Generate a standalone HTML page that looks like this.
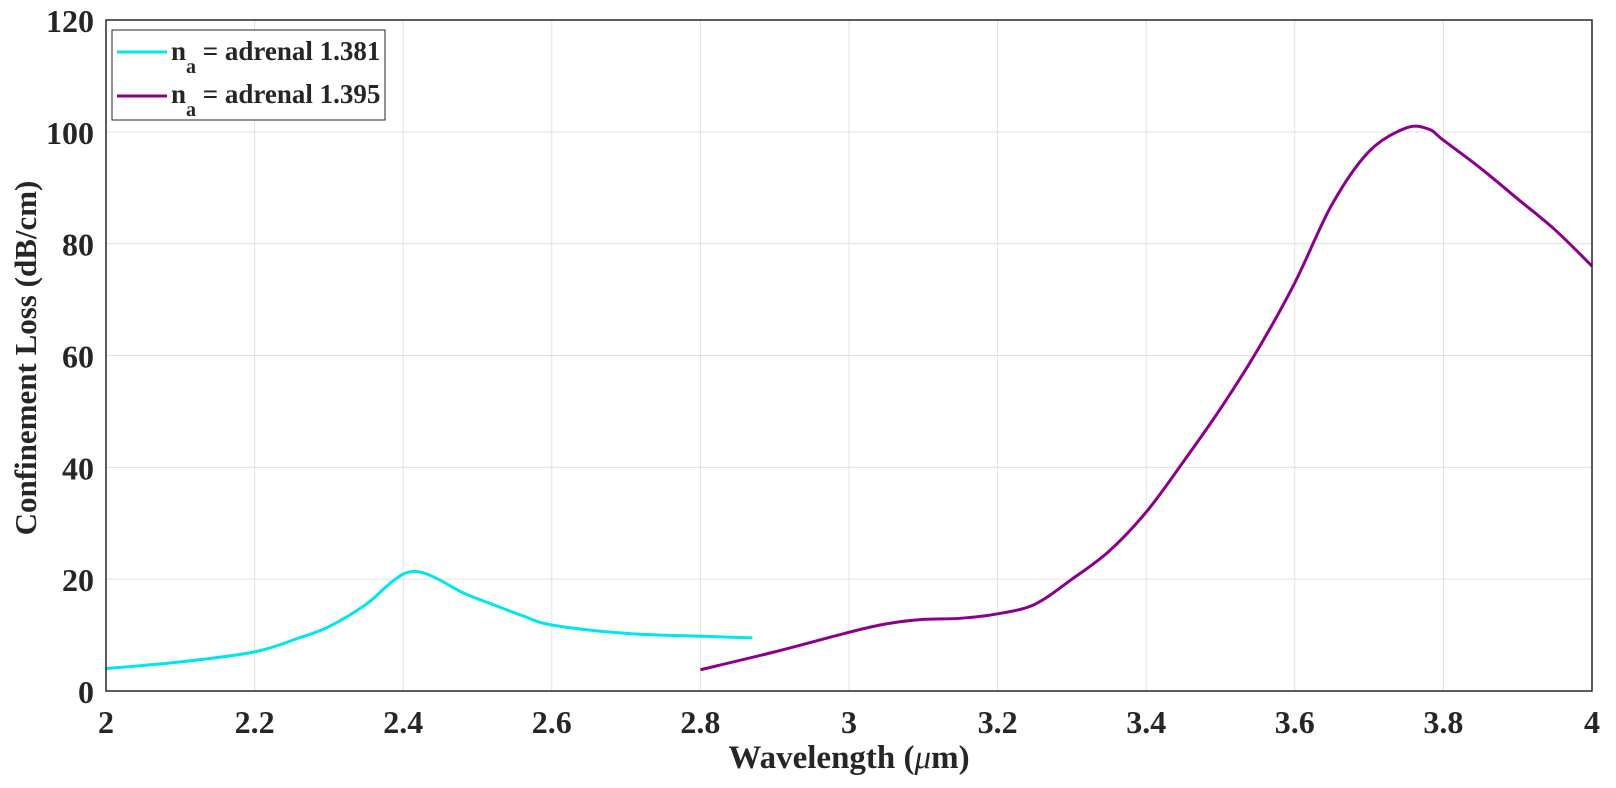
<!DOCTYPE html>
<html><head><meta charset="utf-8"><style>
body{margin:0;background:#fff;}
svg text{font-family:"Liberation Serif",serif;font-weight:bold;fill:#262626;}
</style></head><body>
<svg width="1616" height="783" xmlns="http://www.w3.org/2000/svg">
<g id="grid"></g>
<g id="series"></g>
<rect x="106" y="20" width="1486" height="671" fill="none" stroke="#262626" stroke-width="1.5"/>
<g id="ticks"></g>
<text x="849" y="768" font-size="33" text-anchor="middle">Wavelength (<tspan font-style="italic" font-weight="normal">μ</tspan>m)</text>
<text transform="translate(36,358) rotate(-90)" font-size="31" text-anchor="middle">Confinement Loss (dB/cm)</text>
<g>
<rect x="112" y="30" width="273" height="90" fill="#fff" stroke="#262626" stroke-width="1"/>
<line x1="117" y1="52" x2="167" y2="52" stroke="#00e5ee" stroke-width="3"/>
<text x="171" y="60" font-size="27" fill="#000">n<tspan font-size="20" dy="13">a</tspan><tspan dy="-13"> = adrenal 1.381</tspan></text>
<line x1="117" y1="96" x2="167" y2="96" stroke="#8b008b" stroke-width="3"/>
<text x="171" y="103" font-size="27" fill="#000">n<tspan font-size="20" dy="13">a</tspan><tspan dy="-13"> = adrenal 1.395</tspan></text>
</g>
</svg>
<script>
const xTicks=[2,2.2,2.4,2.6,2.8,3,3.2,3.4,3.6,3.8,4];
const xTickLabels=["2","2.2","2.4","2.6","2.8","3","3.2","3.4","3.6","3.8","4"];
const yTicks=[0,20,40,60,80,100,120];
const yTickLabels=["0","20","40","60","80","100","120"];
const cyanX=[2.0,2.1,2.2,2.26,2.3,2.35,2.38,2.4,2.415,2.43,2.45,2.48,2.52,2.56,2.6,2.7,2.8,2.87];
const cyanY=[4,5.2,7,9.5,11.5,15.5,19,20.9,21.4,21,19.8,17.6,15.5,13.5,11.8,10.3,9.8,9.5];
const purpleX=[2.8,2.9,3.0,3.05,3.1,3.15,3.2,3.25,3.3,3.35,3.4,3.45,3.5,3.55,3.6,3.65,3.7,3.75,3.78,3.8,3.85,3.9,3.95,4.0];
const purpleY=[3.8,7,10.5,12,12.8,13,13.8,15.5,20,25,32,41,50.5,61,73,87,96.5,100.7,100.5,98.5,93.5,88,82.5,76];
const NS="http://www.w3.org/2000/svg";
const X=v=>106+(v-2)/2*1486, Y=v=>691-v/120*671;
const grid=document.getElementById('grid'),ticks=document.getElementById('ticks'),series=document.getElementById('series');
function mk(t,a,p){const e=document.createElementNS(NS,t);for(const k in a)e.setAttribute(k,a[k]);p.appendChild(e);return e;}
xTicks.forEach((v,i)=>{
 const l=mk('line',{x1:X(v),x2:X(v),y1:20,y2:691,stroke:'#e0e0e0','stroke-width':1},grid);
 
 
 const t=mk('text',{x:X(v),y:733,'font-size':32,'text-anchor':'middle'},ticks);t.textContent=xTickLabels[i];
 
 
});
yTicks.forEach((v,i)=>{
 const l=mk('line',{x1:106,x2:1592,y1:Y(v),y2:Y(v),stroke:'#e0e0e0','stroke-width':1},grid);
 
 
 const t=mk('text',{x:94,y:Y(v)+12,'font-size':32,'text-anchor':'end'},ticks);t.textContent=yTickLabels[i];
 
 
});
function path(xs,ys){const p=xs.map((x,i)=>[X(x),Y(ys[i])]);let d=`M${p[0][0]},${p[0][1]}`;
 for(let i=0;i<p.length-1;i++){const p0=p[Math.max(0,i-1)],p1=p[i],p2=p[i+1],p3=p[Math.min(p.length-1,i+2)];
 d+=` C${p1[0]+(p2[0]-p0[0])/6},${p1[1]+(p2[1]-p0[1])/6} ${p2[0]-(p3[0]-p1[0])/6},${p2[1]-(p3[1]-p1[1])/6} ${p2[0]},${p2[1]}`;}return d;}
const c=mk('path',{d:path(cyanX,cyanY),fill:'none',stroke:'#00e5ee','stroke-width':3},series);


const pp=mk('path',{d:path(purpleX,purpleY),fill:'none',stroke:'#8b008b','stroke-width':3},series);


</script>
</body></html>
